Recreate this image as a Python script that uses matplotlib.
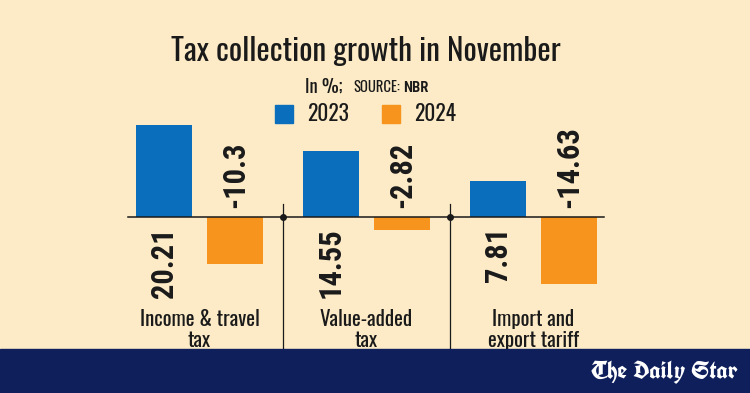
import matplotlib
matplotlib.use("Agg")
import matplotlib.pyplot as plt
from matplotlib.patches import Rectangle
from matplotlib import font_manager as fm

categories = ["Income & travel\ntax", "Value-added\ntax", "Import and\nexport tariff"]
series_2023 = [20.21, 14.55, 7.81]
series_2024 = [-10.3, -2.82, -14.63]
labels_2023 = ["20.21", "14.55", "7.81"]
labels_2024 = ["-10.3", "-2.82", "-14.63"]
legend_labels = ["2023", "2024"]

_fonts = fm.fontManager.ttflist
def pick(prefs, minw=0, maxw=1000):
    out = []
    for p in prefs:
        if any(f.name == p and minw <= f.weight <= maxw for f in _fonts):
            out.append(p)
    return out + ["DejaVu Sans"]

COND = pick(["Oswald", "Roboto Condensed", "Fjalla One", "Antonio"])
COND_L = pick(["Oswald"], maxw=350)
if COND_L == ["DejaVu Sans"]:
    COND_L = COND
COND_B = pick(["Roboto Condensed", "Oswald", "Barlow Condensed", "Archivo Narrow",
               "PT Sans Narrow", "Sofia Sans Condensed", "Antonio"], minw=650)
if COND_B == ["DejaVu Sans"]:
    COND_B = COND
FRAK = pick(["UnifrakturCook", "UnifrakturMaguntia", "Liberation Serif"])

BG = "#FCEBC6"
BLUE = "#0A6EBD"
ORANGE = "#F7941D"
NAVY = "#0E1F5B"
TXT = "#1A1A1A"

W, H = 750, 393
fig = plt.figure(figsize=(W / 100, H / 100), dpi=100, facecolor=BG)
ax = fig.add_axes([0, 0, 1, 1])
ax.set_facecolor(BG)
ax.axis("off")

pitch = 167.0
ppu = 4.57
base_px = 217.0
g0 = 199.5
ax.set_xlim(-g0 / pitch, (W - g0) / pitch)
ax.set_ylim(-(H - base_px) / ppu, base_px / ppu)

bw = 56 / pitch
off = 35.5 / pitch
xs = list(range(len(categories)))
xb = [x - off for x in xs]
xo = [x + off for x in xs]
ax.bar(xb, series_2023, width=bw, color=BLUE, zorder=2)
ax.bar(xo, series_2024, width=bw, color=ORANGE, zorder=2)

ax.axhline(0, xmin=128 / W, xmax=604 / W, color=TXT, lw=1.1, zorder=3)
ymax_ax = (H - base_px + 13) / H
for d in [0.5, 1.5]:
    ax.axvline(d, ymin=0, ymax=ymax_ax, color=TXT, lw=0.9, zorder=3)
    ax.plot([d], [0], "o", color=TXT, ms=4, zorder=4)

for x, lab in zip(xb, labels_2023):
    ax.text(x, -10 / ppu, lab, rotation=90, ha="center", va="top",
            fontsize=22, fontweight="bold", family=COND_B, color=TXT)
for x, lab in zip(xo, labels_2024):
    ax.text(x, 9 / ppu, lab, rotation=90, ha="center", va="bottom",
            fontsize=22, fontweight="bold", family=COND_B, color=TXT)

for x, lab in zip(xs, categories):
    ax.text(x, -92 / ppu, lab, ha="center", va="top", fontsize=15,
            family=COND_L, fontweight="light", color=TXT, linespacing=1.08)

fig.text(366 / W, 1 - 52 / H, "Tax collection growth in November", ha="center",
         va="center", fontsize=22.5, family=COND_L, fontweight="light", color=TXT)
fig.text(343 / W, 1 - 87 / H, "In %;", ha="right", va="center", fontsize=13.5,
         family=COND_L, fontweight="light", color=TXT)
fig.text(353 / W, 1 - 88 / H, "SOURCE:", ha="left", va="center", fontsize=10.5,
         family=COND_L, fontweight="light", color=TXT)
fig.text(403 / W, 1 - 88 / H, "NBR", ha="left", va="center", fontsize=10.5,
         family=COND_B, fontweight="bold", color=TXT)

for (x0, col, lab) in [(275, BLUE, legend_labels[0]), (382, ORANGE, legend_labels[1])]:
    fig.patches.append(Rectangle((x0 / W, 1 - 123 / H), 18 / W, 18 / H,
                                 transform=fig.transFigure, color=col, zorder=5))
    fig.text((x0 + 32) / W, 1 - 114 / H, lab, ha="left", va="center",
             fontsize=15.5, family=COND_L, fontweight="light", color=TXT)

fig.patches.append(Rectangle((0, 0), 1, 44 / H, transform=fig.transFigure,
                             color=NAVY, zorder=10))
fig.text(738 / W, 1 - 372 / H, "The Daily Star", ha="right", va="center",
         fontsize=18, family=FRAK, color="white", zorder=11)

fig.savefig("out.png", dpi=100, facecolor=BG)
